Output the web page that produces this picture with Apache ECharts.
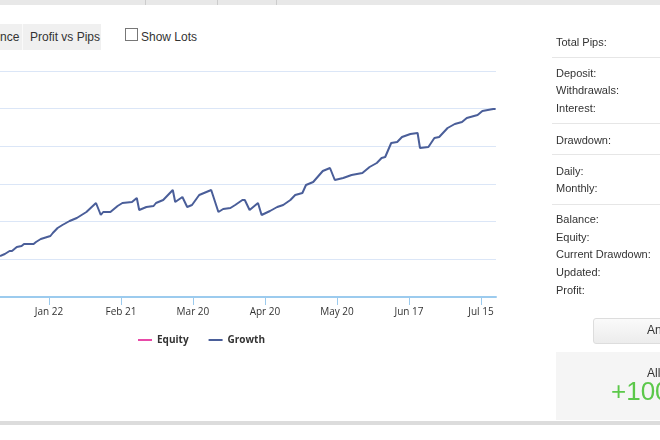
<!DOCTYPE html>
<html><head><meta charset="utf-8">
<script src="https://cdn.jsdelivr.net/npm/echarts@6/dist/echarts.min.js"></script>
<style>
body{margin:0;width:660px;height:440px;overflow:hidden;background:#fff;font-family:Arial,"Liberation Sans",sans-serif;position:relative}
.abs{position:absolute}
#chart{position:absolute;left:0;top:0;width:660px;height:440px}
.lbl{position:absolute;left:556px;font-size:11px;color:#333}
.sep{position:absolute;left:552px;width:108px;height:1px;background:#e6e6e6}
</style></head><body>
<div class="abs" style="left:0;top:0;width:660px;height:5px;background:#e8e8e8"></div>
<div class="abs" style="left:145px;top:0;width:1px;height:5px;background:#ccc"></div>
<div class="abs" style="left:217px;top:0;width:1px;height:5px;background:#ccc"></div>
<div class="abs" style="left:276px;top:0;width:1px;height:5px;background:#ccc"></div>
<div class="abs" style="left:0;top:24px;width:101px;height:26px;background:#f0f0f0"></div>
<div class="abs" style="left:0;top:30px;font-size:12px;color:#333">nce</div>
<div class="abs" style="left:22px;top:24px;width:1px;height:26px;background:#fafafa"></div>
<div class="abs" style="left:30px;top:30px;font-size:12px;color:#333">Profit vs Pips</div>
<div class="abs" style="left:125px;top:28px;width:11px;height:11px;border:1px solid #777;background:#fff"></div>
<div class="abs" style="left:141px;top:30px;font-size:12px;color:#333">Show Lots</div>
<div class="abs" style="left:0;top:421px;width:660px;height:4px;background:#dcdcdc"></div>
<div id="chart"></div>
<div class="lbl" style="top:36px">Total Pips:</div>
<div class="sep" style="top:57px"></div>
<div class="lbl" style="top:67px">Deposit:</div>
<div class="lbl" style="top:84px">Withdrawals:</div>
<div class="lbl" style="top:102px">Interest:</div>
<div class="sep" style="top:123px"></div>
<div class="lbl" style="top:134px">Drawdown:</div>
<div class="sep" style="top:154px"></div>
<div class="lbl" style="top:165px">Daily:</div>
<div class="lbl" style="top:182px">Monthly:</div>
<div class="sep" style="top:204px"></div>
<div class="lbl" style="top:213px">Balance:</div>
<div class="lbl" style="top:231px">Equity:</div>
<div class="lbl" style="top:248px">Current Drawdown:</div>
<div class="lbl" style="top:266px">Updated:</div>
<div class="lbl" style="top:284px">Profit:</div>
<div class="abs" style="left:593px;top:318px;width:80px;height:24px;border:1px solid #ddd;border-radius:3px;background:linear-gradient(#fafafa,#ececec)"></div>
<div class="abs" style="left:647px;top:323px;font-size:12px;color:#333">An</div>
<div class="abs" style="left:556px;top:352px;width:110px;height:68px;background:#f5f5f5"></div>
<div class="abs" style="left:647px;top:366px;font-size:12px;color:#333">All</div>
<div class="abs" style="left:611px;top:376px;font-size:26px;color:#5cc84a">+100</div>
<script>
var days=[0,2,4,5,7,9,10,14,15,17,21,22,24,26,29,32,36,40,42,43,46,49,51,55,57,58,61,64,65,68,72,73,76,78,80,83,88,91,93,96,98,101,102,104,107.5,109,112.5,115.5,118,121,123,126,127.5,130.5,134.5,137.5,139.5,143,146.5,151,154,157,159,160.5,163,165.5,167.5,171,174,175,178.5,181,183,186.5,189.5,192.5,194.5,199,201,205.5,206.5];
var growth=[20.5,21.5,23,23,25,25.5,26.5,26.5,27.5,29,30.5,32,34.5,36,38,39.5,42.5,47,41,42.5,42.5,45.5,47,47.5,49.5,43.5,45,45.5,47,48.5,53.5,47.5,50,45,46,51,53.5,42.5,44,44.5,46,48.5,48.5,43.5,47,41,43,45,46,48.5,51,52,56,57.5,63,64.5,58.5,59.5,61,62,65,67,69.5,70,77,77.5,80,81.5,82,74.5,75,79.5,80,84.5,86.5,87.5,89.5,91,93,94,94];
var tickDays=[20.4,50.4,80.4,110.4,140.4,170.4,200.4];
var tickLabels=['Jan 22','Feb 21','Mar 20','Apr 20','May 20','Jun 17','Jul 15'];
var pts=days.map(function(d,i){return [d,growth[i]];});
var c=echarts.init(document.getElementById('chart'));
c.setOption({
 animation:false,
 grid:{left:0,right:164,top:71,bottom:143},
 legend:{left:133,top:330,itemWidth:14,itemHeight:2,itemGap:20,icon:'rect',
   textStyle:{fontSize:10,color:'#333',fontWeight:'bold',fontFamily:'Open Sans'},data:['Equity','Growth']},
 xAxis:{type:'value',min:0,max:206.67,
   axisLine:{lineStyle:{color:'#9ccbee',width:2}},
   splitLine:{show:false},
   axisTick:{show:true,customValues:tickDays,length:8,lineStyle:{color:'#9ccbee'}},
   axisLabel:{customValues:tickDays,fontSize:10,color:'#333',margin:10,fontFamily:'Open Sans',
     formatter:function(v){var i=tickDays.indexOf(v);return i>=0?tickLabels[i]:'';}}},
 yAxis:{type:'value',min:0,max:113,interval:18.833,
   axisLabel:{show:false},axisLine:{show:false},axisTick:{show:false},
   splitLine:{lineStyle:{color:'#dbe6f7',width:1}}},
 series:[
  {name:'Equity',type:'line',data:[],itemStyle:{color:'#e84aa8'},lineStyle:{color:'#e84aa8'}},
  {name:'Growth',type:'line',data:pts,showSymbol:false,itemStyle:{color:'#4a5e99'},lineStyle:{color:'#4a5e99',width:2}}
 ]
});
</script></body></html>
